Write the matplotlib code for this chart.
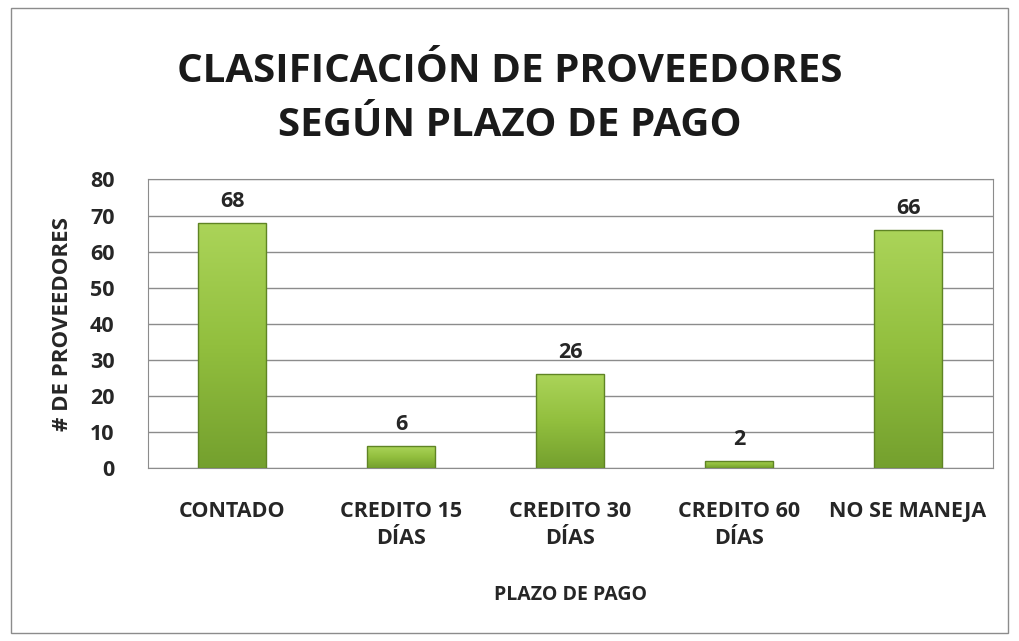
import numpy as np
import matplotlib.pyplot as plt
from matplotlib.colors import LinearSegmentedColormap
from matplotlib.patches import Rectangle

categories = ['CONTADO', 'CREDITO 15\nDÍAS', 'CREDITO 30\nDÍAS', 'CREDITO 60\nDÍAS', 'NO SE MANEJA']
proveedores = [68, 6, 26, 2, 66]
yticks = [0, 10, 20, 30, 40, 50, 60, 70, 80]

plt.rcParams['font.family'] = ['Open Sans', 'DejaVu Sans']
plt.rcParams['font.weight'] = 'bold'

fig = plt.figure(figsize=(10.19, 6.41), dpi=100)
fig.patch.set_facecolor('white')
# outer frame of the chart
fig.add_artist(Rectangle((0.011, 0.012), 0.978, 0.976, transform=fig.transFigure,
                         fill=False, edgecolor='#8c8c8c', linewidth=1))

ax = fig.add_axes([0.145, 0.27, 0.829, 0.45])
x = np.arange(len(categories))
width = 0.4

cmap = LinearSegmentedColormap.from_list('grn', ['#74a02e', '#92bf3e', '#abd459'])
grad = np.linspace(0, 1, 256).reshape(-1, 1)

bars = ax.bar(x, proveedores, width=width, color='none', edgecolor='none', zorder=3)
for b, v in zip(bars, proveedores):
    im = ax.imshow(grad, extent=(b.get_x(), b.get_x() + width, 0, v), origin='lower',
                   cmap=cmap, aspect='auto', zorder=3)
    im.set_clip_path(b)
    ax.add_patch(Rectangle((b.get_x(), 0), width, v, fill=False,
                           edgecolor='#5f8424', linewidth=1, zorder=4))
    ax.text(b.get_x() + width / 2, v + 3, str(v), ha='center', va='bottom',
            fontsize=15.5, fontweight='bold', color='#262626')

ax.set_xlim(-0.5, len(categories) - 0.5)
ax.set_ylim(0, 80)
ax.set_yticks(yticks)
ax.tick_params(axis='y', length=0, labelsize=15.5, pad=24)
ax.tick_params(axis='x', length=0, labelsize=15.5, pad=24)
ax.set_xticks(x)
ax.set_xticklabels(categories, fontweight='bold', color='#262626', linespacing=1.35)
for lab in ax.get_yticklabels():
    lab.set_fontweight('bold')
    lab.set_color('#262626')
ax.grid(axis='y', color='#8c8c8c', linewidth=1, zorder=0)
ax.set_axisbelow(True)
for s in ax.spines.values():
    s.set_color('#8c8c8c')

ax.set_ylabel('# DE PROVEEDORES', fontsize=16, fontweight='bold', color='#262626', labelpad=12)
ax.set_xlabel('PLAZO DE PAGO', fontsize=14, fontweight='bold', color='#262626', labelpad=26)

fig.text(0.5, 0.847, 'CLASIFICACIÓN DE PROVEEDORES\nSEGÚN PLAZO DE PAGO', ha='center', va='center',
         fontsize=29, fontweight='bold', color='#1a1a1a', linespacing=1.5)

fig.savefig('out.png', dpi=100, facecolor='white')
